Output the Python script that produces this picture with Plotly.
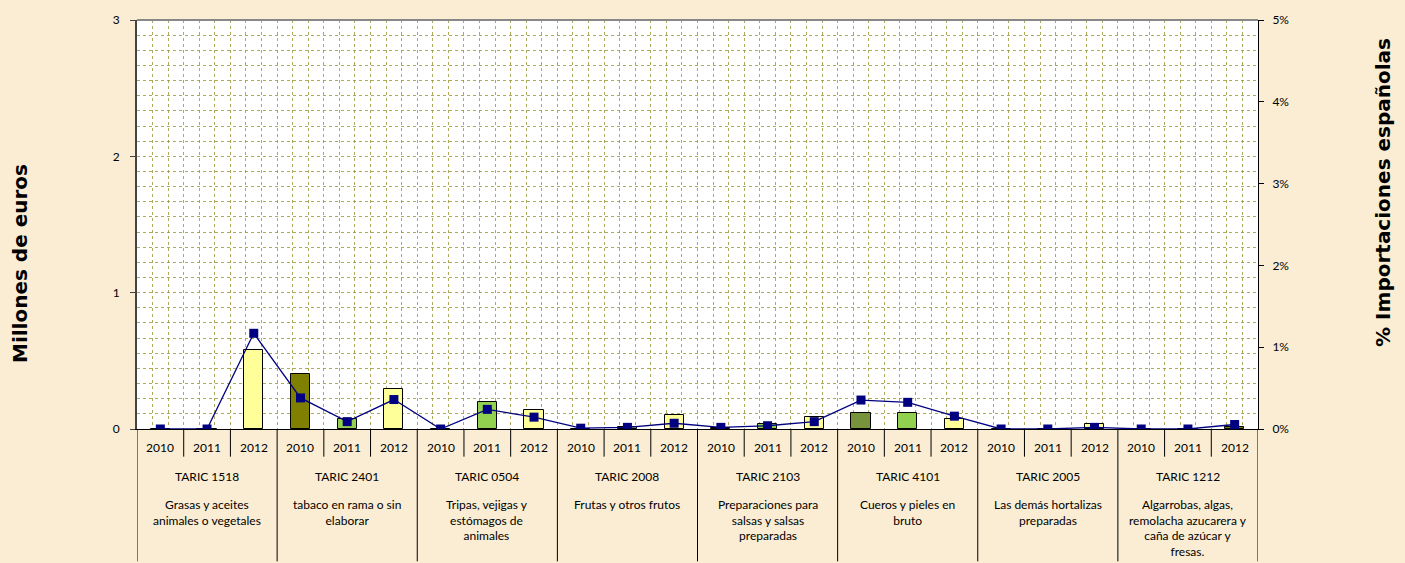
import plotly.graph_objects as go

years = ["2010", "2011", "2012"]
codes = ["TARIC 1518", "TARIC 2401", "TARIC 0504", "TARIC 2008",
         "TARIC 2103", "TARIC 4101", "TARIC 2005", "TARIC 1212"]
descriptions = [
    "Grasas y aceites<br>animales o vegetales",
    "tabaco en rama o sin<br>elaborar",
    "Tripas, vejigas y<br>estómagos de<br>animales",
    "Frutas y otros frutos",
    "Preparaciones para<br>salsas y salsas<br>preparadas",
    "Cueros y pieles en<br>bruto",
    "Las demás hortalizas<br>preparadas",
    "Algarrobas, algas,<br>remolacha azucarera y<br>caña de azúcar y<br>fresas.",
]
# Millones de euros (per group: 2010, 2011, 2012)
values_meur = [
    0.0, 0.0, 0.58,
    0.40, 0.075, 0.295,
    0.0, 0.195, 0.14,
    0.003, 0.012, 0.10,
    0.01, 0.035, 0.085,
    0.116, 0.12, 0.07,
    0.0, 0.0, 0.036,
    0.0, 0.0, 0.015,
]
# % importaciones españolas
pct_imports = [
    0.0, 0.0, 1.17,
    0.38, 0.09, 0.36,
    0.0, 0.24, 0.145,
    0.01, 0.02, 0.07,
    0.02, 0.04, 0.09,
    0.354, 0.326, 0.157,
    0.0, 0.0, 0.02,
    0.0, 0.0, 0.055,
]

# styles
YELLOW, LGREEN, OLIVE, DGREEN = "#FFFF99", "#92D050", "#808000", "#77933C"
bar_colors = [
    YELLOW, YELLOW, YELLOW,
    OLIVE, LGREEN, YELLOW,
    YELLOW, LGREEN, YELLOW,
    YELLOW, LGREEN, YELLOW,
    OLIVE, LGREEN, YELLOW,
    DGREEN, LGREEN, YELLOW,
    YELLOW, LGREEN, YELLOW,
    OLIVE, LGREEN, OLIVE,
]

n = len(values_meur)
xpos = list(range(n))
FONT = "Lato"
GRID = "rgba(150,150,50,0.8)"

fig = go.Figure()
fig.add_trace(go.Bar(
    x=xpos, y=values_meur, width=0.41,
    marker=dict(color=bar_colors, line=dict(color="#000000", width=1)),
    showlegend=False, hoverinfo="y",
))
fig.add_trace(go.Scatter(
    x=xpos, y=[p / 100 for p in pct_imports], yaxis="y2",
    mode="lines+markers",
    line=dict(color="#000080", width=1.3),
    marker=dict(symbol="square", size=9, color="#000080"),
    showlegend=False,
))

shapes = []
annotations = []
H = 414.0  # plot height px
W = 1121.0  # plot width px
def py(px):
    return (429 - px) / H
def pxp(px):
    return (px - 137) / W

for i in range(n):
    annotations.append(dict(x=i, y=py(448), xref="x", yref="paper",
                            text=years[i % 3], showarrow=False,
                            font=dict(family=FONT, size=12, color="#000"),
                            yanchor="middle"))
    b = i - 0.5
    if i % 3 == 0:
        shapes.append(dict(type="line", xref="x", yref="paper", x0=b, x1=b,
                           y0=0, y1=py(563), line=dict(color="#000", width=1)))
    else:
        shapes.append(dict(type="line", xref="x", yref="paper", x0=b, x1=b,
                           y0=0, y1=py(457), line=dict(color="#000", width=1)))
shapes.append(dict(type="line", xref="x", yref="paper", x0=n - 0.5, x1=n - 0.5,
                   y0=0, y1=py(563), line=dict(color="#000", width=1)))
shapes.append(dict(type="line", xref="paper", yref="paper", x0=0, x1=1,
                   y0=1, y1=1, line=dict(color="#888888", width=2)))

for g, (c, d) in enumerate(zip(codes, descriptions)):
    cx = g * 3 + 1
    annotations.append(dict(x=cx, y=py(477), xref="x", yref="paper", text=c,
                            showarrow=False, yanchor="middle",
                            font=dict(family=FONT, size=12, color="#000")))
    annotations.append(dict(x=cx, y=py(496), xref="x", yref="paper", text=d,
                            showarrow=False, yanchor="top", align="center",
                            font=dict(family=FONT, size=12, color="#000")))

annotations.append(dict(x=pxp(20), y=py(262), xref="paper", xanchor="center",
                        yref="paper", yanchor="middle",
                        text="<b>Millones de euros</b>",
                        textangle=-90, showarrow=False,
                        font=dict(family="DejaVu Sans", size=20, color="#000")))
annotations.append(dict(x=pxp(1383), y=py(190), xref="paper", yref="paper",
                        text="<b>% Importaciones españolas</b>",
                        textangle=-90, showarrow=False, xanchor="center",
                        yanchor="middle",
                        font=dict(family="DejaVu Sans", size=20, color="#000")))

fig.update_layout(
    width=1405, height=563,
    margin=dict(l=137, r=147, t=15, b=134),
    paper_bgcolor="#FAEDD3",
    plot_bgcolor="#FFFFFF",
    bargap=0,
    xaxis=dict(range=[-0.5, n - 0.5], tick0=-0.5, dtick=1 / 3,
               showticklabels=False, ticks="", showgrid=True,
               gridcolor=GRID, griddash="dot", gridwidth=1.2,
               zeroline=False, showline=True, linecolor="#000", linewidth=1),
    yaxis=dict(range=[0, 3], dtick=1, tick0=0, ticks="outside", ticklen=5,
               tickcolor="#444", showline=True, linecolor="#444", linewidth=2,
               showgrid=True, gridcolor=GRID, griddash="dot", gridwidth=1.2,
               zeroline=False, ticklabelstandoff=8,
               minor=dict(dtick=1 / 9, tick0=0, showgrid=True, gridcolor=GRID,
                          griddash="dot", gridwidth=1.2),
               tickfont=dict(family=FONT, size=12, color="#000")),
    yaxis2=dict(range=[0, 0.05], dtick=0.01, tickformat=".0%", overlaying="y",
                side="right", ticks="outside", ticklen=5, tickcolor="#000",
                showline=True, linecolor="#000", linewidth=1, showgrid=False,
                zeroline=False, ticklabelstandoff=6,
                tickfont=dict(family=FONT, size=12, color="#000")),
    shapes=shapes,
    annotations=annotations,
)

fig.write_html(
    "out.html",
    config={"displayModeBar": False},
    post_script="document.body.style.margin='0';document.body.style.overflow='hidden';",
)
